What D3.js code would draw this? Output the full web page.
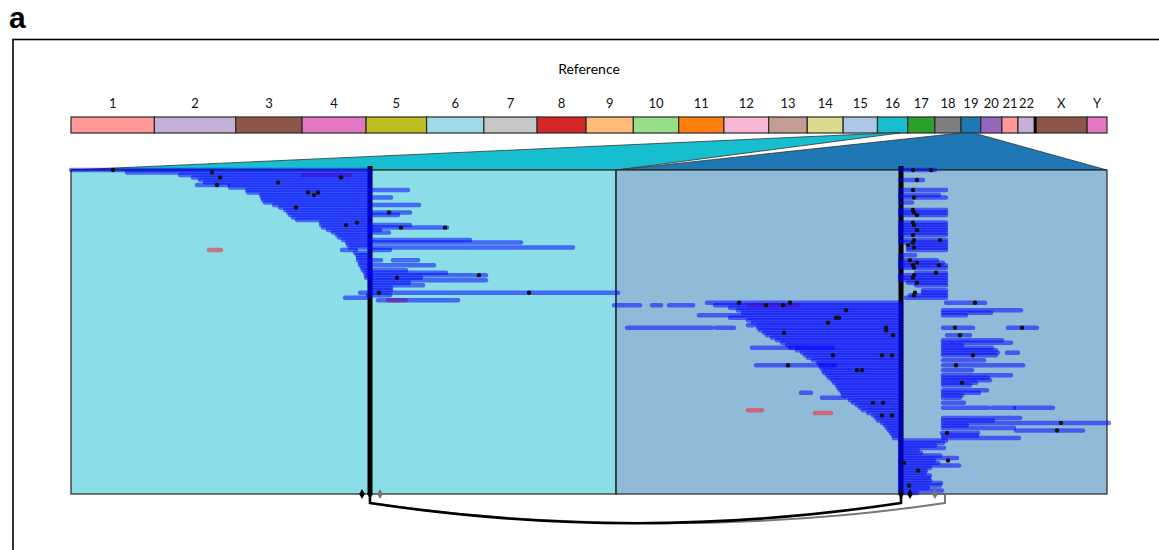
<!DOCTYPE html>
<html>
<head>
<meta charset="utf-8">
<script src="https://cdn.jsdelivr.net/npm/d3@7"></script>
<style>
  body { margin: 0; background: #fff; }
  svg { display: block; font-family: Lato, "Open Sans", sans-serif; }
</style>
</head>
<body>
<svg id="chart" width="1159" height="550"></svg>
<script>
// genome (hg19, Mb)
var chromNames = ["1","2","3","4","5","6","7","8","9","10","11","12","13","14","15","16","17","18","19","20","21","22","X","Y"];
var chromLengths = [249.25,243.2,198.0,191.15,180.9,171.1,159.1,146.4,141.2,135.5,135.0,133.9,115.2,107.3,102.5,90.35,81.2,78.1,59.1,63.0,48.1,51.3,155.3,59.4];
var chromColors = ["#ff9896","#c5b0d5","#8c564b","#e377c2","#bcbd22","#9edae5","#c7c7c7","#d62728","#ffbb78","#98df8a",
                   "#ff7f0e","#f7b6d2","#c49c94","#dbdb8d","#aec7e8","#17becf","#2ca02c","#7f7f7f","#1f77b4","#9467bd",
                   "#ff9896","#c5b0d5","#8c564b","#e377c2"];

// zoomed regions
var leftChrom = "16", leftRegionMb = [35, 67];
var rightChrom = "19", rightRegionMb = [0, 38];
var leftWindowKb = [0, 545], rightWindowKb = [0, 491];
var leftBreakKb = 299, rightBreakKb = 285;

// reads: [row, start kb, end kb]
var leftReads = [
  [0,0,299],[1,56,299],[2,109,299],[3,122,299],[4,129,299],[5,134,299],
  [6,126,157],[6,159,299],[7,159,299],[8,176,299],[8,299,337],[9,177,299],
  [10,190,299],[11,191,299],[11,299,320],[12,192,299],[13,194,299],
  [14,203,299],[14,299,348],[15,209,299],[16,214,299],[17,217,299],[17,299,339],
  [18,219,299],[18,299,327],[19,222,299],[20,226,299],[21,250,299],
  [22,250,299],[22,299,339],[23,252,299],[23,299,376],[24,257,299],[24,299,309],
  [25,262,299],[25,299,318],[26,266,299],[27,268,299],[28,272,299],[28,299,399],
  [29,276,299],[29,299,450],[30,277,299],[31,279,299],[31,299,502],
  [32,271,285],[32,299,319],[33,284,299],[34,286,299],[35,287,299],
  [36,287,299],[36,299,310],[36,322,347],[37,289,299],[38,289,299],[38,299,363],
  [39,291,299],[40,292,299],[40,299,335],[41,294,299],[41,299,375],
  [42,295,299],[42,299,415],[43,295,299],[43,299,350],[44,299,415],
  [45,299,338],[46,299,352],[47,299,320],[48,299,320],[49,289,547],
  [50,297,319],[51,274,296],[52,307,387]
];
var rightReads = [
  [0,284,319],[4,284,307],[8,284,330],[10,284,323],[11,284,330],[13,284,296],
  [16,284,330],[17,284,330],[18,284,330],[21,284,330],[22,284,330],[23,284,330],
  [24,284,330],[25,284,330],[26,284,330],[28,284,330],[29,284,330],[30,292,330],
  [31,292,330],[32,292,330],[34,284,299],[36,284,321],[37,284,327],[38,284,330],
  [39,284,330],[41,300,330],[42,284,330],[43,284,330],[44,284,330],[45,292,330],
  [46,300,330],[48,307,330],[49,307,330],[50,294,330],[51,290,330],
  [53,91,285],[54,-2,24],[54,36,45],[54,53,77],[54,99,285],[55,114,285],
  [56,122,285],[57,127,285],[58,83,285],[59,114,285],[60,132,285],[61,137,285],
  [62,132,137],[62,141,285],[63,11,96],[63,100,118],[63,142,285],[64,144,285],
  [65,148,285],[66,151,285],[67,156,285],[68,161,285],[69,166,285],[70,171,285],
  [71,136,217],[71,174,285],[72,181,285],[73,186,285],[74,189,285],[75,192,285],
  [76,197,285],[77,202,285],[78,140,219],[78,204,285],[79,205,285],[80,207,285],
  [81,208,285],[82,211,285],[83,213,285],[84,216,285],[85,218,285],[86,221,285],
  [87,222,285],[88,224,285],[89,185,195],[89,226,285],[90,227,285],[91,206,227],
  [91,230,285],[92,234,285],[93,237,285],[94,241,285],[95,244,285],[96,247,285],
  [97,252,285],[98,257,285],[99,260,285],[100,262,285],[101,266,285],[102,269,285],
  [103,271,285],[104,273,285],[105,275,285],[106,277,285],[107,278,285],
  [53,330,369],[56,327,405],[57,327,375],[58,327,350],[63,327,357],[63,392,421],
  [66,331,354],[68,327,386],[69,327,395],[70,327,346],[71,327,376],[72,327,380],
  [73,327,382],[73,391,402],[74,327,380],[76,327,368],[78,327,407],[80,327,356],
  [82,327,395],[83,327,372],[84,327,374],[85,327,360],[86,327,354],[88,327,371],
  [89,327,363],[90,327,346],[91,327,344],[93,327,348],[95,327,372],[95,376,398],
  [95,399,437],[99,327,404],[100,327,377],[101,327,493],[102,327,351],[103,327,398],
  [104,400,467],[105,326,362],[106,327,361],[107,327,403],
  [108,284,330],[109,284,327],[110,284,319],[111,284,328],[112,284,302],[113,284,305],
  [114,284,324],[115,284,341],[116,284,318],[117,284,322],[118,284,343],[119,284,314],
  [120,284,310],[121,284,309],[122,284,314],[123,284,313],[124,284,314],[125,284,325],
  [126,284,324],[127,284,312],[128,284,326],[129,284,301]
];
var leftRed = [[2,232,279],[32,138,150],[52,317,335]];
var rightRed = [[54,133,182],[96,132,146],[97,199,215]];

// mismatch dots: [row, kb]
var leftDots = [[0,42],[1,141],[3,149],[3,270],[5,207],[6,146],[9,237],[9,247],[10,243],
  [15,225],[17,318],[21,286],[22,275],[23,330],[23,374],[42,408],[43,326],[49,308],[49,458]];
var rightDots = [[0,297],[0,315],[4,301],[8,297],[11,298],[16,297],[17,298],[18,301],
  [21,297],[22,298],[24,301],[26,297],[28,298],[28,324],[29,297],[30,292],[31,298],
  [36,294],[37,301],[38,297],[38,323],[39,298],[41,320],[42,298],[43,297],[45,301],
  [49,299],[50,298],
  [53,123],[53,174],[54,150],[54,167],[56,230],[59,220],[59,223],[61,212],[63,270],
  [64,270],[65,168],[66,277],[74,217],[74,266],[74,276],[78,172],[80,241],[80,246],
  [93,257],[93,267],[98,266],[98,276],
  [53,359],[63,339],[63,406],[66,344],[74,357],[78,340],[85,346],[101,445],[104,441],
  [105,331],[116,332],[117,288],[120,302],[126,293]];

// breakpoint markers and links (kb)
var leftMarks = [[291,"#000"],[299,"#000"],[309,"#777"]];
var rightMarks = [[285,"#000"],[294,"#000"],[319,"#777"]];
var links = [[299,329,"#777"],[299,285,"#000"]];

var svg = d3.select("#chart");

var ideoX0 = 71, ideoX1 = 1107, ideoTop = 117, ideoH = 16;
var panelTop = 170, panelBottom = 494, splitX = 616;

var offsets = d3.cumsum([0].concat(chromLengths));
var genome = d3.scaleLinear().domain([0, d3.sum(chromLengths)]).range([ideoX0, ideoX1]);
function gx(chrom, mb) {
  var i = chromNames.indexOf(chrom);
  return genome(offsets[i] + mb);
}
function colorOf(chrom) { return chromColors[chromNames.indexOf(chrom)]; }

var xLeft = d3.scaleLinear().domain(leftWindowKb).range([ideoX0, splitX]);
var xRight = d3.scaleLinear().domain(rightWindowKb).range([splitX, ideoX1]);
var rowY = d3.scaleLinear().domain([0, 129]).range([panelTop, panelBottom - 1]);

// outer frame + panel letter
svg.append("rect")
  .attr("x", 13).attr("y", 39.5).attr("width", 1300).attr("height", 700)
  .attr("fill", "none").attr("stroke", "#000").attr("stroke-width", 1.6);

svg.append("text")
  .attr("x", 9).attr("y", 28)
  .style("font-family", "'Liberation Sans', Arial, sans-serif")
  .style("font-weight", "bold").style("font-size", "30px")
  .text("a");

svg.append("text")
  .attr("x", (ideoX0 + ideoX1) / 2).attr("y", 74)
  .attr("text-anchor", "middle")
  .style("font-size", "14px")
  .text("Reference");

// ideogram
var chroms = chromNames.map(function (n, i) {
  return { name: n, start: offsets[i], end: offsets[i + 1], color: chromColors[i] };
});

svg.selectAll("rect.chrom")
  .data(chroms)
  .enter()
  .append("rect")
  .attr("class", "chrom")
  .attr("x", function (d) { return genome(d.start); })
  .attr("y", ideoTop)
  .attr("width", function (d) { return genome(d.end) - genome(d.start); })
  .attr("height", ideoH)
  .attr("fill", function (d) { return d.color; })
  .attr("stroke", "#2a2a2a")
  .attr("stroke-width", 1.2);

svg.append("line")
  .attr("x1", gx("X", 0)).attr("x2", gx("X", 0))
  .attr("y1", ideoTop).attr("y2", ideoTop + ideoH)
  .attr("stroke", "#000").attr("stroke-width", 3);

svg.selectAll("text.chromLabel")
  .data(chroms)
  .enter()
  .append("text")
  .attr("class", "chromLabel")
  .attr("x", function (d) { return (genome(d.start) + genome(d.end)) / 2; })
  .attr("y", 108)
  .attr("text-anchor", "middle")
  .style("font-size", "13px")
  .attr("fill", "#111")
  .text(function (d) { return d.name; });

// zoom trapezoids
var ideoBottom = ideoTop + ideoH;
var zooms = [
  { chrom: leftChrom, region: leftRegionMb, x0: ideoX0, x1: splitX },
  { chrom: rightChrom, region: rightRegionMb, x0: splitX, x1: ideoX1 }
];

svg.selectAll("polygon.zoom")
  .data(zooms)
  .enter()
  .append("polygon")
  .attr("class", "zoom")
  .attr("points", function (d) {
    return [[gx(d.chrom, d.region[0]), ideoBottom], [gx(d.chrom, d.region[1]), ideoBottom],
            [d.x1, panelTop], [d.x0, panelTop]].map(function (p) { return p.join(","); }).join(" ");
  })
  .attr("fill", function (d) { return colorOf(d.chrom); })
  .attr("stroke", "#333")
  .attr("stroke-width", 0.8);

svg.selectAll("rect.panel")
  .data(zooms)
  .enter()
  .append("rect")
  .attr("class", "panel")
  .attr("x", function (d) { return d.x0; })
  .attr("y", panelTop)
  .attr("width", function (d) { return d.x1 - d.x0; })
  .attr("height", panelBottom - panelTop)
  .attr("fill", "#fff");

svg.selectAll("rect.panelFill")
  .data(zooms)
  .enter()
  .append("rect")
  .attr("class", "panelFill")
  .attr("x", function (d) { return d.x0; })
  .attr("y", panelTop)
  .attr("width", function (d) { return d.x1 - d.x0; })
  .attr("height", panelBottom - panelTop)
  .attr("fill", function (d) { return colorOf(d.chrom); })
  .attr("fill-opacity", 0.5)
  .attr("stroke", "#222")
  .attr("stroke-width", 1.2);

// breakpoints
[xLeft(leftBreakKb), xRight(rightBreakKb)].forEach(function (x) {
  svg.append("line")
    .attr("x1", x).attr("x2", x)
    .attr("y1", panelTop - 4).attr("y2", panelBottom)
    .attr("stroke", "#000").attr("stroke-width", 5);
});

function drawReads(data, xs, color, opacity) {
  svg.append("g")
    .selectAll("line")
    .data(data)
    .enter()
    .append("line")
    .attr("x1", function (d) { return xs(d[1]); })
    .attr("x2", function (d) { return xs(d[2]); })
    .attr("y1", function (d) { return rowY(d[0]); })
    .attr("y2", function (d) { return rowY(d[0]); })
    .attr("stroke", color)
    .attr("stroke-opacity", opacity)
    .attr("stroke-width", 4.5)
    .attr("stroke-linecap", "round");
}

// red reads first so blue reads tint them purple where they overlap
drawReads(leftRed, xLeft, "#e83c48", 0.65);
drawReads(rightRed, xRight, "#e83c48", 0.65);
drawReads(leftReads, xLeft, "#0000ff", 0.52);
drawReads(rightReads, xRight, "#0000ff", 0.52);

function drawDots(data, xs) {
  svg.append("g")
    .selectAll("circle")
    .data(data)
    .enter()
    .append("circle")
    .attr("cx", function (d) { return xs(d[1]); })
    .attr("cy", function (d) { return rowY(d[0]); })
    .attr("r", 2.2)
    .attr("fill", "#111");
}

drawDots(leftDots, xLeft);
drawDots(rightDots, xRight);

// links between breakpoints
var drop = 9, sag = 27, bend = 180;
links.forEach(function (l) {
  var xa = xLeft(l[0]), xb = xRight(l[1]);
  var p = d3.path();
  p.moveTo(xa, panelBottom);
  p.lineTo(xa, panelBottom + drop);
  p.bezierCurveTo(xa + bend, panelBottom + drop + sag, xb - bend, panelBottom + drop + sag, xb, panelBottom + drop);
  p.lineTo(xb, panelBottom);
  svg.append("path")
    .attr("d", p.toString())
    .attr("fill", "none")
    .attr("stroke", l[2])
    .attr("stroke-width", l[2] === "#000" ? 2.6 : 2);
});

var diamond = d3.symbol().type(d3.symbolDiamond).size(28);
function drawMarks(data, xs) {
  svg.append("g")
    .selectAll("path")
    .data(data)
    .enter()
    .append("path")
    .attr("d", diamond)
    .attr("transform", function (d) { return "translate(" + xs(d[0]) + "," + panelBottom + ")"; })
    .attr("fill", function (d) { return d[1]; });
}
drawMarks(leftMarks, xLeft);
drawMarks(rightMarks, xRight);
</script>
</body>
</html>
